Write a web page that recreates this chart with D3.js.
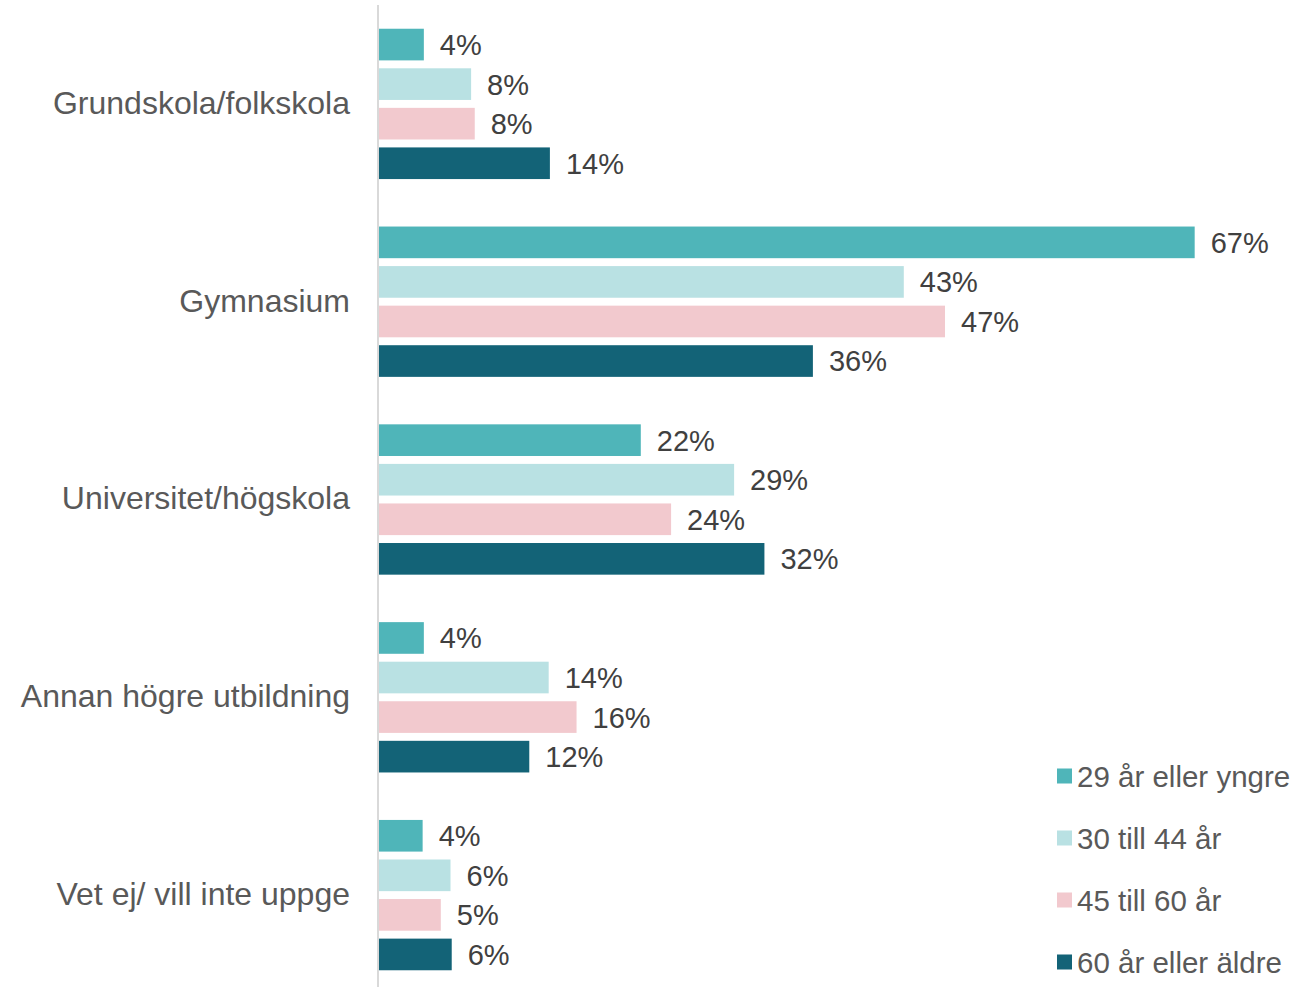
<!DOCTYPE html>
<html>
<head>
<meta charset="utf-8">
<script src="https://cdn.jsdelivr.net/npm/d3@7"></script>
<style>
  body { margin: 0; background: #fff; }
  text { font-family: "Liberation Sans", Arial, sans-serif; }
</style>
</head>
<body>
<script>
var categories = ["Grundskola/folkskola", "Gymnasium", "Universitet/högskola", "Annan högre utbildning", "Vet ej/ vill inte uppge"];
var seriesNames = ["29 år eller yngre", "30 till 44 år", "45 till 60 år", "60 år eller äldre"];
var seriesColors = ["#4FB5B9", "#B9E1E3", "#F2C9CE", "#136377"];
// values per series, in category order (percent)
var young = [3.7, 67.3, 21.6, 3.7, 3.6];
var mid1 = [7.6, 43.3, 29.3, 14.0, 5.9];
var mid2 = [7.9, 46.7, 24.1, 16.3, 5.1];
var old = [14.1, 35.8, 31.8, 12.4, 6.0];
var series = [young, mid1, mid2, old];

var W = 1299, H = 987;
var svg = d3.select("body").append("svg")
    .attr("width", W)
    .attr("height", H);

var x = d3.scaleLinear().domain([0, 70]).range([379, 379 + 70 * 12.12]);
var y0 = d3.scaleBand().domain(categories).range([5, 994])
    .paddingInner(0.2).paddingOuter(0.1);
var y1 = d3.scaleBand().domain(d3.range(seriesNames.length)).range([0, y0.bandwidth()])
    .paddingInner(0.2).paddingOuter(0.1);

var groups = svg.selectAll("g.cat")
    .data(categories)
    .enter().append("g")
    .attr("class", "cat")
    .attr("transform", function(d) { return "translate(0," + y0(d) + ")"; });

groups.each(function(cat, ci) {
  var g = d3.select(this);
  series.forEach(function(vals, si) {
    g.append("rect")
        .attr("x", x(0))
        .attr("y", y1(si))
        .attr("width", x(vals[ci]) - x(0))
        .attr("height", y1.bandwidth())
        .attr("fill", seriesColors[si]);
    g.append("text")
        .attr("x", x(vals[ci]) + 16)
        .attr("y", y1(si) + y1.bandwidth() / 2)
        .attr("dy", "0.36em")
        .attr("font-size", 29)
        .attr("fill", "#404040")
        .text(Math.round(vals[ci]) + "%");
  });
  g.append("text")
      .attr("x", 350)
      .attr("y", y0.bandwidth() / 2)
      .attr("dy", "0.31em")
      .attr("text-anchor", "end")
      .attr("font-size", 32)
      .attr("fill", "#595959")
      .text(cat);
});

// axis line
svg.append("line")
    .attr("x1", x(0) - 1).attr("x2", x(0) - 1)
    .attr("y1", 5).attr("y2", 987)
    .attr("stroke", "#D9D9D9")
    .attr("stroke-width", 2);

// legend
var legend = svg.selectAll("g.leg")
    .data(seriesNames)
    .enter().append("g")
    .attr("class", "leg")
    .attr("transform", function(d, i) { return "translate(1057," + (776 + i * 62) + ")"; });
legend.append("rect")
    .attr("x", 0).attr("y", -7.5)
    .attr("width", 15).attr("height", 15)
    .attr("fill", function(d, i) { return seriesColors[i]; });
legend.append("text")
    .attr("x", 20)
    .attr("dy", "0.36em")
    .attr("font-size", 29.5)
    .attr("fill", "#595959")
    .text(function(d) { return d; });
</script>
</body>
</html>
